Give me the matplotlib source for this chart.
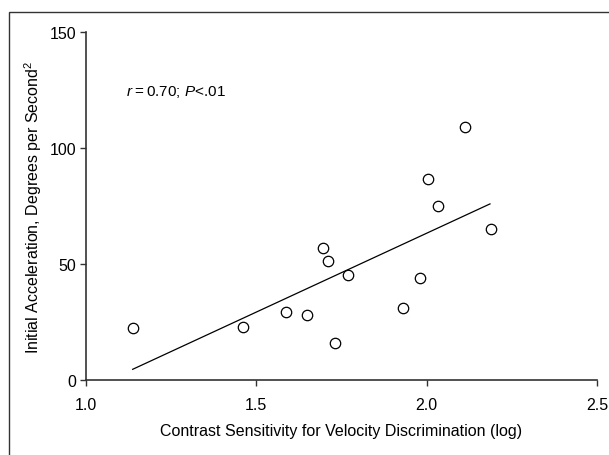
import numpy as np
import matplotlib.pyplot as plt
from matplotlib.patches import Rectangle

plt.rcParams['font.family'] = ['Liberation Sans', 'DejaVu Sans']
plt.rcParams['mathtext.fontset'] = 'custom'
plt.rcParams['mathtext.rm'] = 'Liberation Sans'
plt.rcParams['mathtext.it'] = 'Liberation Sans:italic'

# contrast sensitivity (log) vs initial acceleration
sensitivity = [1.137, 1.460, 1.587, 1.649, 1.696, 1.711, 1.731,
               1.768, 1.930, 1.981, 2.003, 2.032, 2.114, 2.190]
acceleration = [22.5, 23.0, 29.3, 28.1, 57.1, 51.1, 16.1,
                45.4, 31.0, 43.9, 86.7, 74.9, 108.9, 65.2]

# regression line end points
fit_x = [1.137, 2.186]
fit_y = [4.6, 75.9]

xticks = [1.0, 1.5, 2.0, 2.5]
yticks = [0, 50, 100, 150]

fig = plt.figure(figsize=(6.09, 4.56), dpi=100)
ax = fig.add_axes([0.1412, 0.1645, 0.8390, 0.7631])

ax.plot(fit_x, fit_y, color='black', linewidth=0.9)
ax.plot(sensitivity, acceleration, linestyle='none', marker='o',
        markersize=7.5, markerfacecolor='white', markeredgecolor='black',
        markeredgewidth=0.9)

ax.set_xlim(1.0, 2.5)
ax.set_ylim(0, 150)
ax.set_xticks(xticks)
ax.set_xticklabels(['%.1f' % t for t in xticks])
ax.set_yticks(yticks)

for s in ['top', 'right']:
    ax.spines[s].set_visible(False)
for s in ['left', 'bottom']:
    ax.spines[s].set_color('#333333')
    ax.spines[s].set_linewidth(1.2)
ax.tick_params(direction='out', length=4, width=1.0, color='#333333',
               labelsize=11.5, pad=3)
ax.tick_params(axis='x', pad=8)

ax.set_xlabel('Contrast Sensitivity for Velocity Discrimination (log)',
              fontsize=11.5, labelpad=8)
ax.set_ylabel('Initial Acceleration, Degrees per Second$^2$',
              fontsize=11.5, labelpad=4)

ax.text(1.117, 124.5, '$\\it{r}$\u2009=\u20090.70; $\\it{P}$<.01', fontsize=11,
        va='center', ha='left')

fig.patches.append(Rectangle((9 / 609, -0.05), 1.1, 0.05 + 1 - 13 / 456,
                             transform=fig.transFigure, fill=False,
                             edgecolor='#333333', linewidth=1.0))

fig.savefig('out.png', dpi=100)
